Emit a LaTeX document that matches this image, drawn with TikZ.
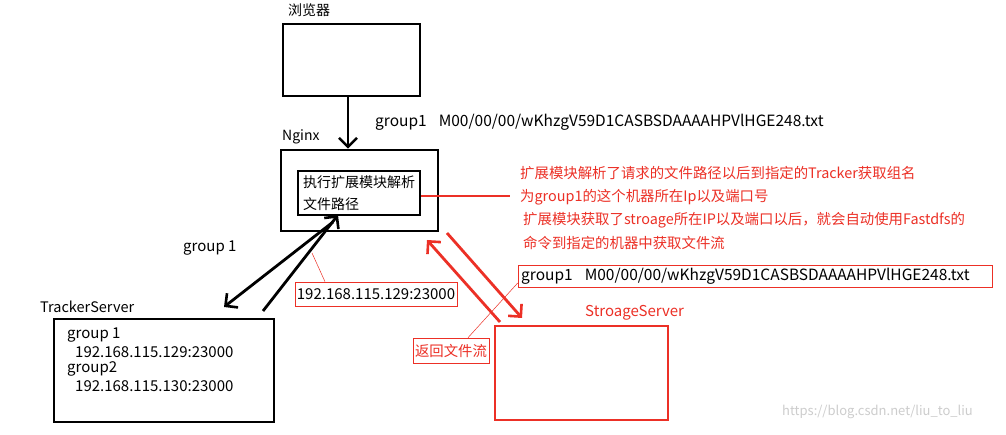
\documentclass[tikz,border=0pt]{standalone}
\usepackage{fontspec}
\setmainfont{Noto Sans CJK SC}
\usetikzlibrary{arrows.meta}
\definecolor{rd}{RGB}{236,48,38}
\definecolor{wm}{RGB}{205,205,205}
\begin{document}
\begin{tikzpicture}[x=1pt,y=-1pt,
  lbl/.style={anchor=west,inner sep=0pt,font=\fontsize{15}{17}\selectfont},
  cjk/.style={lbl,font=\fontsize{14}{16}\selectfont},
  rlbl/.style={lbl,text=rd,font=\fontsize{14.4}{16}\selectfont},
  blackbox/.style={draw,line width=2.6pt,inner sep=0pt},
  redbox/.style={draw=rd,line width=2.6pt,inner sep=0pt},
  thinred/.style={draw=rd,line width=0.6pt,inner sep=0pt},
  barrow/.style={line width=2.8pt,-{Straight Barb[length=9pt,width=18pt,line width=2.6pt]}},
  rarrow/.style={draw=rd,line width=2.8pt,-{Straight Barb[length=9pt,width=18pt,line width=2.6pt]}},
  leader/.style={draw=rd,line width=0.5pt}]
\useasboundingbox[fill=white] (0,0) rectangle (1006,435);

% browser
\node[cjk] (blbl) at (288,10) {浏览器};
\node[blackbox,minimum width=137pt,minimum height=72pt] (browser) at (351.5,60) {};
\node[lbl,font=\fontsize{15.5}{17}\selectfont] (req) at (375,122) {group1\hspace{12pt}M00/00/00/wKhzgV59D1CASBSDAAAAHPVlHGE248.txt};

% nginx
\node[lbl,font=\fontsize{14}{16}\selectfont] (nlbl) at (282,137) {Nginx};
\node[blackbox,minimum width=157pt,minimum height=81pt] (nginx) at (359.5,190.5) {};
\node[blackbox,minimum width=122pt,minimum height=44pt] (inner) at (359,193) {};
\node[cjk] (t1) at (303,182) {执行扩展模块解析};
\node[cjk] (t2) at (303,204) {文件路径};
\draw[rd,line width=2pt] (inner.east |- 0,196) coordinate (rs) -- (510,196) coordinate (re);

% red explanation
\node[rlbl] (r1) at (520,173) {扩展模块解析了请求的文件路径以后到指定的Tracker获取组名};
\node[rlbl] (r2) at (520,197) {为group1的这个机器所在Ip以及端口号};
\node[rlbl] (r3) at (523,220) {扩展模块获取了stroage所在IP以及端口以后，就会自动使用Fastdfs的};
\node[rlbl] (r4) at (523,243) {命令到指定的机器中获取文件流};

% tracker
\node[lbl] (g1) at (183,248) {group 1};
\node[thinred,minimum width=162pt,minimum height=24pt] (ipbox) at (376,294) {};
\node[lbl,anchor=center] (iptxt) at (ipbox.center) {192.168.115.129:23000};
\node[lbl,font=\fontsize{14.5}{16}\selectfont] (tlbl) at (40,307) {TrackerServer};
\node[blackbox,minimum width=220pt,minimum height=103pt] (tracker) at (164,370.5) {};
\node[lbl] (tl1) at (67,335) {group 1};
\node[lbl] (tl2) at (75,352) {192.168.115.129:23000};
\node[lbl] (tl3) at (67,369) {group2};
\node[lbl] (tl4) at (75,386) {192.168.115.130:23000};

% storage
\node[thinred,minimum width=474pt,minimum height=22pt] (fbox) at (755,276) {};
\node[lbl,font=\fontsize{15.5}{17}\selectfont] (ftxt) at (521,276) {group1\hspace{12pt}M00/00/00/wKhzgV59D1CASBSDAAAAHPVlHGE248.txt};
\node[rlbl,font=\fontsize{15}{17}\selectfont] (slbl) at (585,313) {StroageServer};
\node[redbox,minimum width=173pt,minimum height=94pt] (storage) at (581.5,373) {};
\node[thinred,minimum width=76pt,minimum height=25pt] (ret) at (451,350.5) {};
\node[rlbl,anchor=center] (rettxt) at (ret.center) {返回文件流};

% connectors
\draw[barrow] (browser.south -| 348,0) -- (nginx.north -| 348,0);
\coordinate (a1s) at (333,222);
\coordinate (a1e) at (224,307);
\coordinate (a2s) at (263,311);
\coordinate (a2e) at (338,215);
\draw[barrow] (a1s) -- (a1e);
\draw[barrow] (a2s) -- (a2e);
\coordinate (ra1s) at (500,322);
\coordinate (ra1e) at (427,240);
\coordinate (ra2s) at (447,233);
\coordinate (ra2e) at (522,318);
\draw[rarrow] (ra1s) -- (ra1e);
\draw[rarrow] (ra2s) -- (ra2e);
\coordinate (l1) at (312,253);
\draw[leader] (ipbox.north -| 325,0) -- (l1);
\draw[leader] (ret.north -| 468,0) -- (fbox.west |- 0,283);

% watermark
\node[anchor=west,inner sep=0pt,text=wm,font=\fontsize{13}{15}\selectfont] (wmk) at (782,412) {https://blog.csdn.net/liu\_to\_liu};
\end{tikzpicture}
\end{document}
